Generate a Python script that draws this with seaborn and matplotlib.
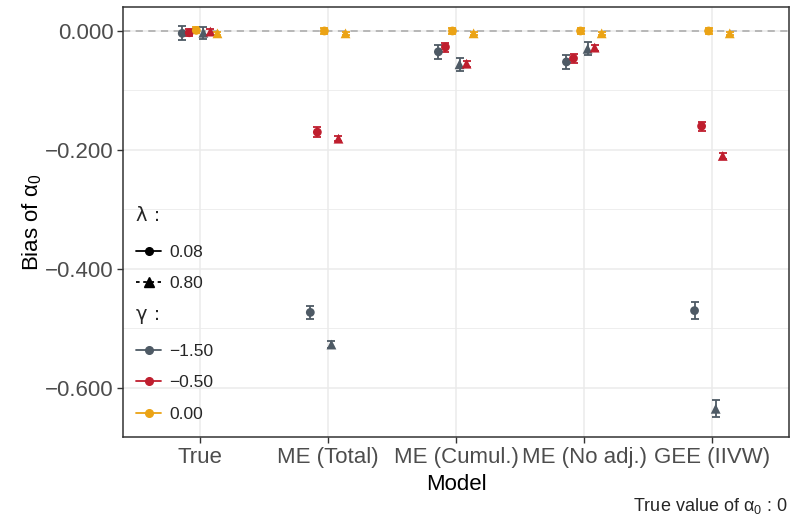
import matplotlib
matplotlib.use("Agg")
import numpy as np
import pandas as pd
import matplotlib.pyplot as plt
import seaborn as sns
from matplotlib.lines import Line2D
from matplotlib.ticker import FixedLocator, FuncFormatter

# ---------------- data ----------------
models = ["True", "ME (Total)", "ME (Cumul.)", "ME (No adj.)", "GEE (IIVW)"]
lambda_levels = ["0.08", "0.80"]
gamma_levels = ["\u22121.50", "\u22120.50", "0.00"]

# bias estimates (lambda = 0.08)
bias_l008_g150 = [-0.004, -0.473, -0.035, -0.052, -0.470]
bias_l008_g050 = [-0.003, -0.170, -0.027, -0.046, -0.160]
bias_l008_g000 = [0.001, 0.000, 0.000, 0.000, 0.000]
# bias estimates (lambda = 0.80)
bias_l080_g150 = [-0.003, -0.527, -0.056, -0.030, -0.635]
bias_l080_g050 = [-0.001, -0.181, -0.055, -0.028, -0.210]
bias_l080_g000 = [-0.004, -0.004, -0.004, -0.004, -0.004]

# error-bar half widths
err_l008_g150 = [0.012, 0.0105, 0.012, 0.012, 0.0137]
err_l008_g050 = [0.006, 0.0078, 0.0075, 0.007, 0.0076]
err_l008_g000 = [0.005, 0.005, 0.005, 0.005, 0.005]
err_l080_g150 = [0.0105, 0.006, 0.011, 0.011, 0.014]
err_l080_g050 = [0.005, 0.004, 0.005, 0.005, 0.005]
err_l080_g000 = [0.003, 0.003, 0.003, 0.003, 0.003]

series = [
    ("0.08", gamma_levels[0], bias_l008_g150, err_l008_g150),
    ("0.08", gamma_levels[1], bias_l008_g050, err_l008_g050),
    ("0.08", gamma_levels[2], bias_l008_g000, err_l008_g000),
    ("0.80", gamma_levels[0], bias_l080_g150, err_l080_g150),
    ("0.80", gamma_levels[1], bias_l080_g050, err_l080_g050),
    ("0.80", gamma_levels[2], bias_l080_g000, err_l080_g000),
]

palette = {gamma_levels[0]: "#4E5A65", gamma_levels[1]: "#BF1E2E", gamma_levels[2]: "#EBA315"}
markers = {"0.08": "o", "0.80": "^"}
msize = {"0.08": 40, "0.80": 50}

step = 0.055
rows = []
for k, (lam, gam, b, e) in enumerate(series):
    for i, m in enumerate(models):
        rows.append(dict(model=m, lam=lam, gam=gam, bias=b[i], err=e[i],
                         xpos=i + (k - 2.5) * step))
df = pd.DataFrame(rows)

# ---------------- style ----------------
sns.set_style("white")
plt.rcParams["font.family"] = ["Liberation Sans", "DejaVu Sans"]
plt.rcParams["mathtext.fontset"] = "custom"
plt.rcParams["mathtext.rm"] = "Liberation Sans"
plt.rcParams["mathtext.it"] = "Liberation Sans:italic"

W, H = 791, 517
fig = plt.figure(figsize=(W / 100, H / 100), dpi=100)
ax = fig.add_axes([123 / W, 1 - 437 / H, (789 - 123) / W, (437 - 7) / H])

# grid
ax.set_axisbelow(True)
for v in [-0.1, -0.3, -0.5]:
    ax.axhline(v, color="#EBEBEB", lw=0.6, zorder=0)
for v in [0.0, -0.2, -0.4, -0.6]:
    ax.axhline(v, color="#EBEBEB", lw=1.1, zorder=0)
for i in range(len(models)):
    ax.axvline(i, color="#EBEBEB", lw=1.1, zorder=0)

ax.axhline(0, color="#B3B3B3", lw=1.3, ls=(0, (4, 3)), zorder=1)

# error bars
for lam, gam, _, _ in series:
    sub = df[(df.lam == lam) & (df.gam == gam)]
    ax.errorbar(sub.xpos, sub.bias, yerr=sub.err, fmt="none", ecolor=palette[gam],
                elinewidth=1.3, capsize=3.0, capthick=1.3, zorder=2)

for lam in lambda_levels:
    sub = df[df.lam == lam]
    sns.scatterplot(data=sub, x="xpos", y="bias", hue="gam",
                    palette=palette, marker=markers[lam], hue_order=gamma_levels,
                    s=msize[lam], linewidth=0, legend=False, ax=ax, zorder=3)

ax.set_xlim(-0.6, len(models) - 1 + 0.6)
ax.set_ylim(-0.6824, 0.0403)
ax.xaxis.set_major_locator(FixedLocator(range(len(models))))
ax.set_xticklabels(models)
ax.yaxis.set_major_locator(FixedLocator([0.0, -0.2, -0.4, -0.6]))
ax.yaxis.set_major_formatter(FuncFormatter(lambda v, p: f"{v:.3f}".replace("-", "\u2212")))
ax.tick_params(axis="both", which="major", length=4, width=1.0, color="#333333",
               labelcolor="#4D4D4D", labelsize=16, pad=2.5, direction="out")
ax.tick_params(axis="x", bottom=True, pad=3.5)
ax.tick_params(axis="y", left=True)
for sp in ax.spines.values():
    sp.set_color("#333333")
    sp.set_linewidth(1.1)

ax.set_xlabel("Model", fontsize=16, color="black", labelpad=4)
ax.set_ylabel("Bias of α$_0$", fontsize=16, color="black", labelpad=1)

# legends
lam_handles = [
    Line2D([0], [0], color="black", ls="-", lw=1.3, marker="o", markersize=5.5),
    Line2D([0], [0], color="black", ls=(0, (2, 2)), lw=1.3, marker="^", markersize=6.5),
]
common = dict(loc="upper left", bbox_transform=fig.transFigure, frameon=False,
              fontsize=12.5, alignment="left", handlelength=1.45,
              handletextpad=0.45, labelspacing=0.95, borderpad=0, borderaxespad=0)
title_font = {"family": ["DejaVu Sans"], "size": 14}
leg1 = ax.legend(lam_handles, lambda_levels, title="λ :", title_fontproperties=title_font,
                 bbox_to_anchor=(136 / W, 1 - 206 / H), **common)
leg1._legend_box.sep = 14
ax.add_artist(leg1)
gam_handles = [Line2D([0], [0], color=palette[g], ls="-", lw=1.3, marker="o", markersize=5.5)
               for g in gamma_levels]
leg2 = ax.legend(gam_handles, gamma_levels, title="γ :", title_fontproperties=title_font,
                 bbox_to_anchor=(136 / W, 1 - 305 / H), **common)
leg2._legend_box.sep = 14

fig.text(788 / W, 1 / H, "True value of α$_0$ : 0", ha="right", va="bottom", fontsize=13)

fig.savefig("out.png", dpi=100)
